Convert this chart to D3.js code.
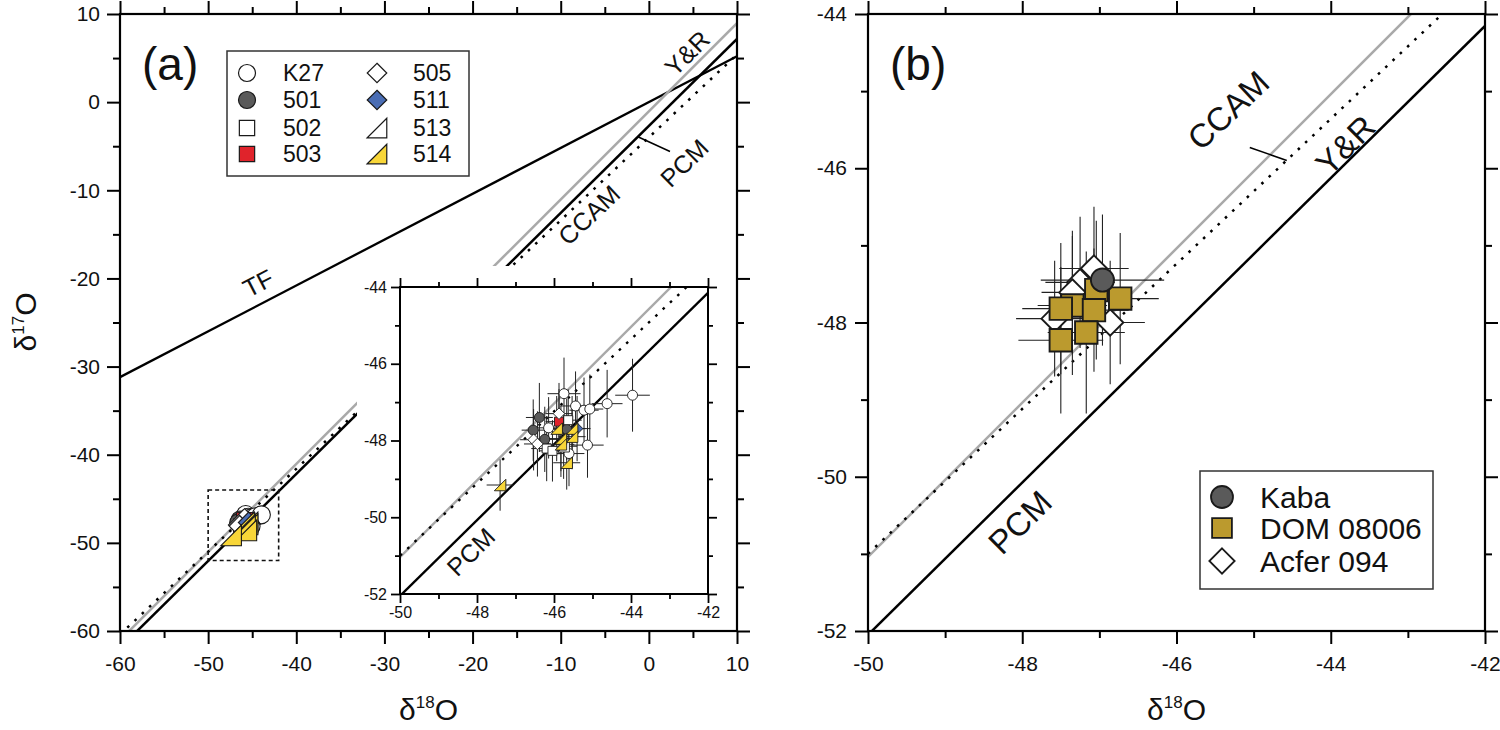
<!DOCTYPE html>
<html><head><meta charset="utf-8">
<script src="https://cdn.jsdelivr.net/npm/d3@7"></script>
<style>
body{margin:0;background:#fff}
svg{display:block}
text{font-family:"Liberation Sans",Arial,sans-serif;fill:#111}
</style></head>
<body><svg id="c" width="1500" height="730"></svg>
<script>
// ---------------- DATA ----------------
// reference fractionation lines: d17O = slope * d18O + intercept
const lineNames = ["TF", "Y&R", "CCAM", "PCM"];
const lineSlopes = [0.52, 1.00, 0.94, 0.987];
const lineIntercepts = [0.0, -1.04, -4.00, -2.70];

// axis ticks
const aMajor = [-60, -50, -40, -30, -20, -10, 0, 10];
const aMinor = [-55, -45, -35, -25, -15, -5, 5];
const zMajor = [-50, -48, -46, -44, -42];
const zMinor = [-49, -47, -45, -43];
const zMajorY = [-52, -50, -48, -46, -44];
const zMinorY = [-51, -49, -47, -45];

// panel (a) samples: d18O, d17O, 2sigma errors
const sampleNames = ["K27", "501", "502", "503", "505", "511", "513", "514"];
const k27_d18 = [-45.74, -45.44, -45.22, -45.07, -44.62, -43.96, -46.14, -45.13, -45.61];
const k27_d17 = [-46.78, -47.10, -47.21, -47.18, -47.04, -46.82, -47.67, -48.12, -48.34];
const k27_e18 = [0.43, 0.40, 0.38, 0.35, 0.40, 0.45, 0.40, 0.42, 0.40];
const k27_e17 = [0.94, 0.90, 0.85, 0.90, 0.88, 0.95, 0.80, 0.85, 0.85];
const s501_d18 = [-46.38, -46.54, -46.24, -45.67];
const s501_d17 = [-47.40, -47.73, -47.97, -47.71];
const s501_e18 = [0.35, 0.30, 0.35, 0.35];
const s501_e17 = [0.90, 0.80, 0.85, 0.80];
const s502_d18 = [-46.19, -46.04, -45.63];
const s502_d17 = [-48.21, -48.27, -47.47];
const s502_e18 = [0.40, 0.35, 0.35];
const s502_e17 = [0.85, 0.80, 0.80];
const s503_d18 = [-45.87];
const s503_d17 = [-47.51];
const s503_e18 = [0.35];
const s503_e17 = [0.85];
const s505_d18 = [-45.87, -46.53, -46.43];
const s505_d17 = [-47.30, -47.98, -48.09];
const s505_e18 = [0.35, 0.35, 0.35];
const s505_e17 = [0.80, 0.80, 0.85];
const s511_d18 = [-45.40];
const s511_d17 = [-47.69];
const s511_e18 = [0.35];
const s511_e17 = [0.85];
const s513_d18 = [-45.75];
const s513_d17 = [-48.15];
const s513_e18 = [0.35];
const s513_e17 = [0.85];
const s514_d18 = [-45.93, -45.53, -45.82, -45.53, -45.82, -45.67, -47.40];
const s514_d17 = [-47.69, -47.69, -47.95, -47.90, -48.10, -48.58, -49.16];
const s514_e18 = [0.35, 0.35, 0.35, 0.35, 0.35, 0.35, 0.35];
const s514_e17 = [0.85, 0.85, 0.85, 0.85, 0.85, 0.70, 0.67];

// panel (b) literature data
const litNames = ["Kaba", "DOM 08006", "Acfer 094"];
const kaba_d18 = [-46.96];
const kaba_d17 = [-47.45];
const kaba_e18 = [0.80];
const kaba_e17 = [0.85];
const dom_d18 = [-47.35, -47.50, -47.04, -47.07, -46.73, -47.17, -47.50];
const dom_d17 = [-47.78, -47.82, -47.58, -47.84, -47.69, -48.13, -48.23];
const dom_e18 = [0.45, 0.50, 0.40, 0.45, 0.50, 0.50, 0.55];
const dom_e17 = [0.90, 0.85, 0.90, 0.80, 0.85, 1.05, 0.95];
const acf_d18 = [-47.07, -47.25, -47.35, -47.58, -46.86];
const acf_d17 = [-47.30, -47.48, -47.61, -47.95, -48.00];
const acf_e18 = [0.45, 0.45, 0.40, 0.50, 0.45];
const acf_e17 = [0.80, 0.85, 0.80, 0.75, 0.80];

// annotation anchors (data units)
const aLabelText = ["TF", "Y&R", "CCAM", "PCM"];
const aLabelX = [-44.34, 4.33, -6.79, 4.0];
const aLabelY = [-20.52, 5.58, -12.8, -6.89];
const aLeaderX = [-1.25, 2.4];
const aLeaderY = [-3.93, -5.6];
const bLabelText = ["Y&R", "CCAM", "PCM"];
const bLabelX = [-43.81, -45.33, -48.03];
const bLabelY = [-45.70, -45.25, -50.59];
const bLeaderX = [-45.05, -44.57];
const bLeaderY = [-45.73, -45.90];
const iLabelX = [-48.16];
const iLabelY = [-50.9];
const boxX = [-50, -42];
const boxY = [-52, -44];

// ---------------- STYLES ----------------
const groups = [
  {n: "K27", x: k27_d18, y: k27_d17, ex: k27_e18, ey: k27_e17, shape: "circle", fill: "#ffffff"},
  {n: "501", x: s501_d18, y: s501_d17, ex: s501_e18, ey: s501_e17, shape: "circle", fill: "#5a5a5a"},
  {n: "502", x: s502_d18, y: s502_d17, ex: s502_e18, ey: s502_e17, shape: "square", fill: "#ffffff"},
  {n: "503", x: s503_d18, y: s503_d17, ex: s503_e18, ey: s503_e17, shape: "square", fill: "#e0232b"},
  {n: "505", x: s505_d18, y: s505_d17, ex: s505_e18, ey: s505_e17, shape: "diamond", fill: "#ffffff"},
  {n: "511", x: s511_d18, y: s511_d17, ex: s511_e18, ey: s511_e17, shape: "diamond", fill: "#4a6db4"},
  {n: "513", x: s513_d18, y: s513_d17, ex: s513_e18, ey: s513_e17, shape: "tri", fill: "#ffffff"},
  {n: "514", x: s514_d18, y: s514_d17, ex: s514_e18, ey: s514_e17, shape: "tri", fill: "#f8d638"}
];
const litGroups = [
  {n: "Kaba", x: kaba_d18, y: kaba_d17, ex: kaba_e18, ey: kaba_e17, shape: "circle", fill: "#5a5a5a"},
  {n: "DOM 08006", x: dom_d18, y: dom_d17, ex: dom_e18, ey: dom_e17, shape: "square", fill: "#bb9a2e"},
  {n: "Acfer 094", x: acf_d18, y: acf_d17, ex: acf_e18, ey: acf_e17, shape: "diamond", fill: "#ffffff"}
];
const lineStyle = [
  {stroke: "#000", w: 2.3, dash: null},
  {stroke: "#a9a9a9", w: 2.5, dash: null},
  {stroke: "#000", w: 2.5, dash: "2.6,7.4"},
  {stroke: "#000", w: 2.5, dash: null}
];

// ---------------- DRAW ----------------
const svg = d3.select("#c");
const fmt = d => String(d);

const xa = d3.scaleLinear().domain([-60, 10]).range([120, 737]);
const ya = d3.scaleLinear().domain([-60, 10]).range([631, 14]);
const xb = d3.scaleLinear().domain([-50, -42]).range([868, 1485]);
const yb = d3.scaleLinear().domain([-52, -44]).range([631, 14]);
const xi = d3.scaleLinear().domain([-50, -42]).range([400, 708]);
const yi = d3.scaleLinear().domain([-52, -44]).range([594, 287]);

function symbol(g, shape, cx, cy, s, fill, sw) {
  let el;
  if (shape === "circle") {
    el = g.append("circle").attr("cx", cx).attr("cy", cy).attr("r", s);
  } else {
    let p;
    if (shape === "square") p = `M${cx - s},${cy - s}h${2 * s}v${2 * s}h${-2 * s}Z`;
    else if (shape === "diamond") p = `M${cx},${cy - s}L${cx + s},${cy}L${cx},${cy + s}L${cx - s},${cy}Z`;
    else p = `M${cx - s},${cy + s}L${cx + s},${cy - s}L${cx + s},${cy + s}Z`;
    el = g.append("path").attr("d", p);
  }
  el.attr("fill", fill).attr("stroke", "#1a1a1a").attr("stroke-width", sw).attr("stroke-linejoin", "miter");
}

function axes(g, x, y, o) {
  const [yBot, yTop] = y.range();
  const [xL, xR] = x.range();
  const st = sel => {
    sel.select(".domain").remove();
    sel.selectAll("line").attr("stroke", "#000").attr("stroke-width", o.tw);
    sel.selectAll("text").attr("font-size", o.fs).attr("fill", "#111")
      .attr("font-family", "'Liberation Sans', Arial, sans-serif");
  };
  g.append("g").attr("transform", `translate(0,${yBot})`)
    .call(d3.axisBottom(x).tickValues(o.xMaj).tickSize(o.maj).tickPadding(o.padX).tickFormat(fmt)).call(st);
  g.append("g").attr("transform", `translate(0,${yBot})`)
    .call(d3.axisBottom(x).tickValues(o.xMin).tickSize(o.min).tickFormat("")).call(st);
  g.append("g").attr("transform", `translate(0,${yTop})`)
    .call(d3.axisTop(x).tickValues(o.xMaj).tickSize(o.maj).tickFormat("")).call(st);
  g.append("g").attr("transform", `translate(0,${yTop})`)
    .call(d3.axisTop(x).tickValues(o.xMin).tickSize(o.min).tickFormat("")).call(st);
  g.append("g").attr("transform", `translate(${xL},0)`)
    .call(d3.axisLeft(y).tickValues(o.yMaj).tickSize(o.maj).tickPadding(o.padY).tickFormat(fmt)).call(st);
  g.append("g").attr("transform", `translate(${xL},0)`)
    .call(d3.axisLeft(y).tickValues(o.yMin).tickSize(o.min).tickFormat("")).call(st);
  g.append("g").attr("transform", `translate(${xR},0)`)
    .call(d3.axisRight(y).tickValues(o.yMaj).tickSize(o.maj).tickFormat("")).call(st);
  g.append("g").attr("transform", `translate(${xR},0)`)
    .call(d3.axisRight(y).tickValues(o.yMin).tickSize(o.min).tickFormat("")).call(st);
  g.append("rect").attr("x", xL).attr("y", yTop).attr("width", xR - xL).attr("height", yBot - yTop)
    .attr("fill", "none").attr("stroke", "#000").attr("stroke-width", o.fw);
}

function drawLines(g, x, y, idxs, clipId, scaleW) {
  const [d0, d1] = x.domain();
  idxs.forEach(i => {
    const s = lineStyle[i];
    const l = g.append("line")
      .attr("x1", x(d0)).attr("y1", y(lineSlopes[i] * d0 + lineIntercepts[i]))
      .attr("x2", x(d1)).attr("y2", y(lineSlopes[i] * d1 + lineIntercepts[i]))
      .attr("stroke", s.stroke).attr("stroke-width", s.w * scaleW)
      .attr("clip-path", `url(#${clipId})`);
    if (s.dash) l.attr("stroke-dasharray", s.dash);
  });
}

function clip(id, x, y) {
  svg.append("clipPath").attr("id", id).append("rect")
    .attr("x", x.range()[0]).attr("y", y.range()[1])
    .attr("width", x.range()[1] - x.range()[0]).attr("height", y.range()[0] - y.range()[1]);
}
clip("ca", xa, ya); clip("cb", xb, yb); clip("ci", xi, yi);

function lineLabel(g, x, y, lx, ly, txt, lineIdx, fs) {
  const sl = lineSlopes[lineIdx];
  const ang = Math.atan2(y(sl * 1) - y(0), x(1) - x(0)) * 180 / Math.PI;
  g.append("text").attr("transform", `translate(${x(lx)},${y(ly)}) rotate(${ang})`)
    .attr("text-anchor", "middle").attr("dominant-baseline", "central")
    .attr("font-size", fs).text(txt);
}

function errorBars(g, x, y, grp, sw) {
  grp.x.forEach((d, k) => {
    g.append("line").attr("x1", x(d - grp.ex[k])).attr("x2", x(d + grp.ex[k]))
      .attr("y1", y(grp.y[k])).attr("y2", y(grp.y[k])).attr("stroke", "#222").attr("stroke-width", sw);
    g.append("line").attr("x1", x(d)).attr("x2", x(d))
      .attr("y1", y(grp.y[k] - grp.ey[k])).attr("y2", y(grp.y[k] + grp.ey[k])).attr("stroke", "#222").attr("stroke-width", sw);
  });
}

const sizes = {circle: 1, square: 0.9, diamond: 1.15, tri: 1.15};
const sizesB = {circle: 1.05, square: 1.02, diamond: 1.2};

// ===== Panel (a) =====
const ga = svg.append("g");
drawLines(ga, xa, ya, [0, 1, 2, 3], "ca", 1);

const gaS = ga.append("g").attr("clip-path", "url(#ca)");
groups.forEach(grp => {
  grp.x.forEach((d, k) => symbol(gaS, grp.shape, xa(d), ya(grp.y[k]), 9 * sizes[grp.shape], grp.fill, 1.1));
});
ga.append("rect").attr("x", xa(boxX[0])).attr("y", ya(boxY[1]))
  .attr("width", xa(boxX[1]) - xa(boxX[0])).attr("height", ya(boxY[0]) - ya(boxY[1]))
  .attr("fill", "none").attr("stroke", "#111").attr("stroke-width", 1.6).attr("stroke-dasharray", "4,3");

lineLabel(ga, xa, ya, aLabelX[0], aLabelY[0], aLabelText[0], 0, 25);
lineLabel(ga, xa, ya, aLabelX[1], aLabelY[1], aLabelText[1], 1, 25);
lineLabel(ga, xa, ya, aLabelX[2], aLabelY[2], aLabelText[2], 2, 25);
lineLabel(ga, xa, ya, aLabelX[3], aLabelY[3], aLabelText[3], 3, 25);
ga.append("line").attr("x1", xa(aLeaderX[0])).attr("y1", ya(aLeaderY[0]))
  .attr("x2", xa(aLeaderX[1])).attr("y2", ya(aLeaderY[1])).attr("stroke", "#000").attr("stroke-width", 1.5);

// inset background
ga.append("rect").attr("x", 357).attr("y", 266).attr("width", 370).attr("height", 360).attr("fill", "#fff");

axes(ga, xa, ya, {xMaj: aMajor, xMin: aMinor, yMaj: aMajor, yMin: aMinor, maj: 13, min: 7,
  padX: 12, padY: 7, fs: 21, tw: 2, fw: 2.2});

// ===== Inset =====
const gi = svg.append("g");
drawLines(gi, xi, yi, [1, 2, 3], "ci", 0.95);
lineLabel(gi, xi, yi, iLabelX[0], iLabelY[0], "PCM", 3, 25);
const giE = gi.append("g").attr("clip-path", "url(#ci)");
groups.forEach(grp => errorBars(giE, xi, yi, grp, 1));
groups.forEach(grp => {
  grp.x.forEach((d, k) => symbol(giE, grp.shape, xi(d), yi(grp.y[k]), 5 * sizes[grp.shape], grp.fill, 0.9));
});
axes(gi, xi, yi, {xMaj: zMajor, xMin: zMinor, yMaj: zMajorY, yMin: zMinorY, maj: 9, min: 5,
  padX: 4, padY: 4, fs: 16, tw: 1.8, fw: 2});

// legend (a)
const lga = svg.append("g");
lga.append("rect").attr("x", 227).attr("y", 51).attr("width", 242).attr("height", 125)
  .attr("fill", "#fff").attr("stroke", "#333").attr("stroke-width", 1.5);
const legRows = [73, 100, 128, 154];
groups.forEach((grp, i) => {
  const col = Math.floor(i / 4), row = i % 4;
  const sx = col === 0 ? 247 : 377, tx = col === 0 ? 283 : 413;
  symbol(lga, grp.shape, sx, legRows[row], 8.5 * sizes[grp.shape], grp.fill, 1.2);
  lga.append("text").attr("x", tx).attr("y", legRows[row] + 8).attr("font-size", 23).text(grp.n);
});

svg.append("text").attr("x", 142).attr("y", 80).attr("font-size", 46).text("(a)");

// ===== Panel (b) =====
const gb = svg.append("g");
drawLines(gb, xb, yb, [1, 2, 3], "cb", 1);
lineLabel(gb, xb, yb, bLabelX[0], bLabelY[0], bLabelText[0], 1, 33);
lineLabel(gb, xb, yb, bLabelX[1], bLabelY[1], bLabelText[1], 2, 33);
lineLabel(gb, xb, yb, bLabelX[2], bLabelY[2], bLabelText[2], 3, 33);
gb.append("line").attr("x1", xb(bLeaderX[0])).attr("y1", yb(bLeaderY[0]))
  .attr("x2", xb(bLeaderX[1])).attr("y2", yb(bLeaderY[1])).attr("stroke", "#000").attr("stroke-width", 1.5);
const gbE = gb.append("g").attr("clip-path", "url(#cb)");
litGroups.forEach(grp => errorBars(gbE, xb, yb, grp, 1.1));
[litGroups[2], litGroups[1], litGroups[0]].forEach(grp => {
  grp.x.forEach((d, k) => symbol(gbE, grp.shape, xb(d), yb(grp.y[k]), 11 * sizesB[grp.shape], grp.fill, 1.9));
});
axes(gb, xb, yb, {xMaj: zMajor, xMin: zMinor, yMaj: zMajorY, yMin: zMinorY, maj: 13, min: 7,
  padX: 12, padY: 8, fs: 21, tw: 2, fw: 2.2});

const lgb = svg.append("g");
lgb.append("rect").attr("x", 1200).attr("y", 471).attr("width", 233).attr("height", 118)
  .attr("fill", "#fff").attr("stroke", "#333").attr("stroke-width", 1.5);
const legRowsB = [497, 528, 561];
litGroups.forEach((grp, i) => {
  symbol(lgb, grp.shape, 1222, legRowsB[i], 11 * sizes[grp.shape], grp.fill, 1.8);
  lgb.append("text").attr("x", 1260).attr("y", legRowsB[i] + 10.5).attr("font-size", 30).text(grp.n);
});
svg.append("text").attr("x", 890).attr("y", 80).attr("font-size", 46).text("(b)");

// ===== axis titles =====
function title(x, y, rot, sup) {
  const t = svg.append("text").attr("transform", `translate(${x},${y}) rotate(${rot})`)
    .attr("text-anchor", "middle").attr("font-size", 30);
  t.append("tspan").text("δ");
  t.append("tspan").attr("font-size", 17).attr("dy", -12).text(sup);
  t.append("tspan").attr("dy", 12).text("O");
}
title(36, 322, -90, "17");
title((xa.range()[0] + xa.range()[1]) / 2, 720, 0, "18");
title((xb.range()[0] + xb.range()[1]) / 2, 720, 0, "18");
</script></body></html>
